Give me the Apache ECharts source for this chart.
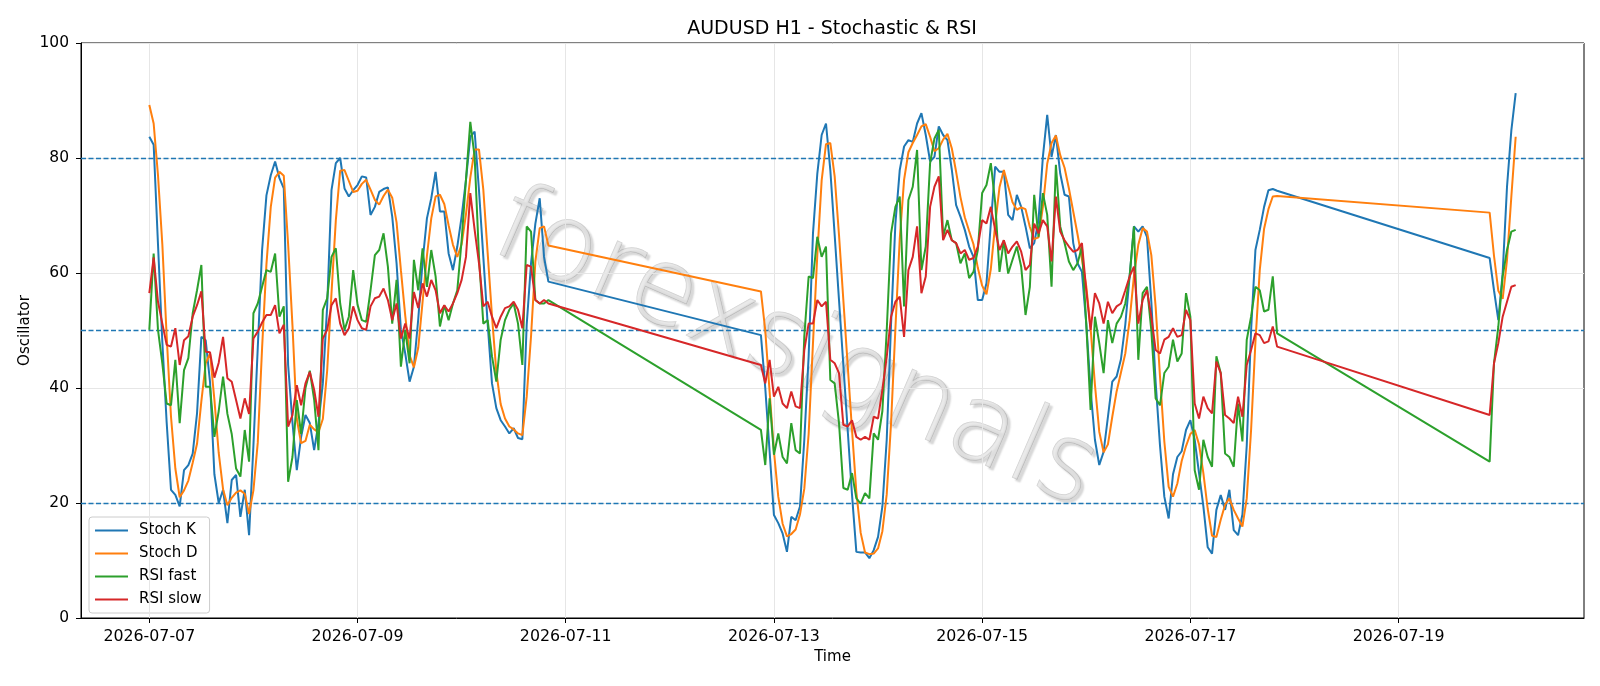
<!DOCTYPE html>
<html>
<head>
<meta charset="utf-8">
<script src="https://cdn.jsdelivr.net/npm/echarts@6/dist/echarts.min.js"></script>
<style>
  html, body { margin: 0; padding: 0; background: #fff; }
  #chart { width: 1600px; height: 686px; }
</style>
</head>
<body>
<div id="chart"></div>
<script>
// hour offsets from 2026-07-07 00:00, one point per hour inside each segment
var segments = [[0, 92], [141, 260], [309, 315]];

var tickHours = [0, 48, 96, 144, 192, 240, 288];
var tickLabels = ['2026-07-07', '2026-07-09', '2026-07-11', '2026-07-13', '2026-07-15', '2026-07-17', '2026-07-19'];
var levels = [20, 50, 80];

var stochK = [
  83.7, 82.3, 65, 48, 34, 22.3, 21.4, 19.4, 25.7, 26.6,
  28.6, 35.6, 48.9, 48.3, 41, 25, 20, 22.3, 16.5, 24,
  24.9, 17.6, 22.3, 14.4, 30, 47, 64, 73.5, 77, 79.4,
  76.5, 74.7, 44, 34, 25.7, 31.5, 35.3, 33.9, 29.2, 33.9,
  40.8, 54.2, 74.4, 79.1, 80, 74.7, 73.3, 74.4, 75.3, 76.8,
  76.6, 70.1, 71.5, 74.1, 74.6, 74.9, 69.8, 61.7, 50.1, 46,
  41.1, 43.7, 52, 62, 69.5, 73, 77.6, 70.7, 70.7, 63.4,
  60.5, 64.6, 69.8, 76.2, 83.7, 84.6, 74.4, 62.8, 51.2, 40.8,
  36.5, 34.4, 33.3, 32.1, 33, 31.3, 31.1, 51, 61.7, 68.6,
  73, 62.8, 58.5,
  49.2, 40, 29, 17.9, 16.5, 14.7, 11.5, 17.6, 17, 19.4,
  31, 45.5, 66.9, 77.3, 84, 86, 77.9, 66.6, 55.3, 44,
  32.7, 21.4, 11.5, 11.4, 11.4, 10.4, 11.8, 14.1, 19.4, 31,
  51.2, 68.6, 77.9, 82, 83.1, 82.8, 86, 87.8, 84, 79.4,
  80.2, 85.5, 84, 83.1, 78, 71.8, 69.8, 67.5, 64.6, 62.8,
  55.3, 55.3, 58.2, 68.6, 78.5, 77.6, 77.6, 70.1, 69.2, 73.6,
  71.5, 68.1, 64.3, 65.2, 69.2, 80.2, 87.5, 80.2, 84, 77.3,
  73.6, 73.3, 65.2, 61.7, 60.2, 51.2, 39.7, 31, 26.6, 28.9,
  35, 41.1, 42, 45, 51, 59.4, 68.1, 67.2, 68.1, 66.3,
  55, 41, 30, 21.1, 17.3, 25, 28, 29, 32.7, 34.4,
  31, 25.2, 19.4, 12.3, 11.2, 18.8, 21.4, 18.8, 22.3, 15.3,
  14.4, 18, 30, 50, 64, 67.5, 71.5, 74.4, 74.6, 74.3,
  62.6, 57, 51.8, 60, 75, 84.8, 91.3
];

var stochD = [
  89.2, 86, 77, 65, 49, 35, 26, 21, 22.2, 23.9,
  27, 30.3, 37.7, 44.3, 46, 38, 28.7, 22.4, 19.6, 20.9,
  21.8, 22.2, 21.6, 18.1, 22.2, 30.5, 47, 61.5, 71.5, 76.6,
  77.6, 76.9, 65, 50.9, 34.6, 30.4, 30.8, 33.6, 32.8, 32.3,
  34.6, 43, 56.5, 69.2, 77.8, 77.9, 76, 74.1, 74.3, 75.5,
  76.2, 74.5, 72.7, 71.9, 73.4, 74.5, 73.1, 68.8, 60.5, 52.6,
  45.7, 43.6, 47, 55, 63, 69.5, 73.3, 73.6, 72, 68.3,
  64.9, 62.8, 65, 70.2, 76.6, 81.5, 81.5, 74.5, 63.5, 52.5,
  42.8, 37.2, 34.7, 33.3, 32.8, 32.1, 31.8, 38.5, 49, 62,
  67.8, 68.1, 64.8,
  56.8, 50, 39.4, 29, 21.1, 16.4, 14.2, 14.6, 15.4, 18,
  22.5, 32, 47.8, 63.2, 76.1, 82.4, 82.6, 76.8, 66.6, 55.3,
  44, 32.7, 21.9, 14.8, 11.4, 11.1, 11.2, 12.1, 15.1, 21.5,
  33.9, 50.3, 65.9, 76.2, 81, 82.6, 84, 85.5, 85.9, 83.7,
  81.2, 81.7, 83.2, 84.2, 81.7, 77.6, 73.2, 69.7, 67.3, 65,
  60.9, 57.8, 56.3, 60.7, 68.4, 74.9, 77.9, 75.1, 72.3, 71,
  71.4, 71.1, 68, 65.9, 66.2, 71.5, 79, 82.6, 83.9, 80.5,
  78.3, 74.7, 70.7, 66.7, 62.4, 57.7, 50.4, 40.6, 32.4, 28.8,
  30.2, 35, 39.4, 42.7, 46, 51.8, 59.5, 64.9, 67.8, 67.2,
  63.1, 54.1, 42, 30.7, 22.8, 21.1, 23.4, 27.3, 29.9, 32,
  32.7, 30.2, 25.2, 19, 14.3, 14.1, 17.1, 19.7, 20.8, 18.8,
  17.3, 15.9, 20.8, 32.7, 48, 60.5, 67.7, 71.1, 73.3, 73.4,
  70.5, 63, 56.9, 55.5, 62.3, 73.3, 83.7
];

var rsiFast = [
  50.1, 63.4, 50.1, 44.3, 37.3, 37, 44.9, 33.9, 43.1, 45.2,
  53, 57, 61.4, 40.2, 40.2, 31.5, 36, 42, 35.5, 32,
  26, 24.6, 32.7, 27.2, 53, 54.7, 57.6, 60.5, 60.2, 63.4,
  52.4, 54.2, 23.7, 28, 37.9, 32, 40, 43, 38, 29.2,
  53.6, 55.6, 62.8, 64.3, 54.7, 50.1, 52.4, 60.5, 54.5, 51.8,
  51.5, 57, 63.1, 64, 66.9, 61.1, 51.2, 58.8, 43.7, 50.1,
  44.3, 62.3, 57, 64.3, 57.6, 64, 59.4, 50.7, 54.4, 51.8,
  54.7, 57, 65.7, 76.2, 86.3, 80.2, 62.8, 51.2, 51.8, 45.5,
  41.1, 48.4, 51.8, 53.6, 54.7, 51.2, 44, 68.1, 67.2, 55.3,
  54.7, 54.7, 55.3,
  32.7, 26.6, 38.2, 28.4, 32.1, 28, 26.9, 33.9, 29.2, 28.6,
  49, 59.4, 59.1, 66.3, 62.8, 64.6, 41.4, 40.8, 33.9, 22.6,
  22.3, 25.2, 20.8, 19.9, 21.7, 20.8, 32.1, 31, 36, 50,
  66.9, 71.5, 73.3, 54.2, 72.7, 75, 81.4, 60.5, 64.6, 79.1,
  83.4, 84.9, 66.3, 69.2, 65.7, 65.2, 61.7, 63.4, 59.1, 60.2,
  64, 73.9, 75.3, 79.1, 72.3, 60.2, 65.7, 59.9, 62.3, 64.6,
  61.1, 52.7, 57.6, 73.6, 66.3, 73.9, 70.1, 57.6, 78.8, 68.1,
  65.2, 62, 60.5, 61.7, 64.6, 51.2, 36.2, 52.4, 47.8, 42.6,
  51.8, 47.8, 51.2, 52.4, 54.7, 59.4, 68.1, 44.9, 56.5, 57.6,
  50, 38.2, 37, 42.6, 43.7, 48.4, 44.6, 46, 56.5, 52.4,
  25.7, 22.3, 31, 28, 26.3, 45.5, 42.6, 28.6, 28, 26.3,
  37.3, 30.7, 48.4, 52.4, 57.6, 57, 53.3, 53.6, 59.4, 49.5,
  27.2, 44.3, 50.7, 59.4, 64, 67.2, 67.5
];

var rsiSlow = [
  56.5, 62.7, 55, 51.2, 47.5, 47.2, 50.4, 44, 48.3, 49,
  52.4, 54.4, 56.8, 46.3, 46.2, 41.8, 44.4, 48.9, 41.7, 41.1,
  37.9, 34.7, 38.2, 35.5, 48.6, 49.8, 51.4, 52.7, 52.7, 54.4,
  49.5, 51, 33.3, 35.3, 40.5, 37, 40.8, 42.8, 39.7, 35,
  48.6, 50.1, 54.4, 55.6, 51.2, 49.2, 50.4, 54.2, 51.8, 50.4,
  50.1, 54.2, 55.6, 55.9, 57.3, 55.3, 51.8, 54.7, 48.6, 51.2,
  48.6, 56.7, 53.9, 58.2, 55.9, 58.8, 57, 53, 54.4, 53.3,
  54.7, 56.5, 58.8, 62.8, 73.9, 67.5, 61.7, 54.2, 55, 52.4,
  50.4, 52.4, 53.9, 54.2, 55, 53.6, 50.4, 61.4, 61.1, 55.3,
  54.7, 55.3, 54.7,
  44, 40.8, 44.9, 38.5, 40.2, 37.3, 36.5, 39.4, 36.8, 36.5,
  46.6, 51.2, 51.2, 55.3, 54.2, 55, 44.9, 44.3, 42.6, 33.6,
  33.3, 34.4, 31.5, 31, 31.5, 31, 35, 34.7, 39.7, 45.4,
  52.4, 55, 55.9, 48.9, 60.5, 62.8, 68.1, 56.5, 59.4, 71.5,
  75, 76.8, 65.7, 67.5, 65.7, 65.2, 63.4, 64, 62.3, 62.6,
  64.6, 69.2, 68.6, 71.5, 67.5, 64, 65.7, 63.4, 64.6, 65.5,
  63.7, 60.5, 61.4, 68.6, 66.9, 69.2, 68.1, 62, 73.3, 67.2,
  65.7, 64.6, 63.7, 64, 65.2, 57, 50.1, 56.5, 54.7, 51.2,
  55, 53, 54.2, 54.7, 57, 59.4, 61.1, 51.2, 55.3, 57,
  52.4, 46.6, 46, 48.4, 48.9, 50.4, 48.9, 49.2, 53.6, 51.8,
  37.3, 34.7, 38.5, 36.5, 35.6, 44.6, 42.6, 35.3, 34.7, 33.9,
  38.5, 35, 44, 46.6, 49.5, 49.2, 47.8, 48.1, 50.7, 47.2,
  35.3, 44.3, 47.8, 52.4, 55, 57.6, 57.9
];

var hours = [];
segments.forEach(function (s) {
  for (var h = s[0]; h <= s[1]; h++) hours.push(h);
});

function pairs(vals) {
  return hours.map(function (h, i) { return [h, vals[i]]; });
}

var chart = echarts.init(document.getElementById('chart'));
var font = 'DejaVu Sans';

function lineSeries(name, vals, color) {
  return {
    name: name,
    type: 'line',
    data: pairs(vals),
    symbol: 'none',
    showSymbol: false,
    z: 5,
    lineStyle: { color: color, width: 2 },
    itemStyle: { color: color },
    emphasis: { disabled: true }
  };
}

var option = {
  animation: false,
  backgroundColor: '#fff',
  textStyle: { fontFamily: font },
  title: {
    text: 'AUDUSD H1 - Stochastic & RSI',
    left: 827,
    textAlign: 'center',
    top: 15,
    textStyle: { fontFamily: font, fontSize: 19, fontWeight: 'normal', color: '#000' }
  },
  legend: {
    data: ['Stoch K', 'Stoch D', 'RSI fast', 'RSI slow'],
    orient: 'vertical',
    left: 89,
    top: 517,
    itemWidth: 33,
    itemHeight: 2,
    itemGap: 8,
    icon: 'rect',
    padding: [6, 8, 6, 6],
    backgroundColor: 'rgba(255,255,255,0.85)',
    borderColor: '#cccccc',
    borderWidth: 1,
    borderRadius: 3,
    textStyle: { fontFamily: font, fontSize: 15, color: '#000', padding: [0, 0, 0, 6] }
  },
  grid: {
    left: 81, right: 16, top: 43, bottom: 68,
    show: true, borderColor: '#000', borderWidth: 1, backgroundColor: 'transparent'
  },
  xAxis: {
    type: 'value',
    min: -15.75,
    max: 330.75,
    name: 'Time',
    nameLocation: 'middle',
    nameGap: 30,
    nameTextStyle: { fontFamily: font, fontSize: 15, color: '#000' },
    axisLine: { show: true, onZero: false, lineStyle: { color: '#000', width: 1 } },
    axisTick: { show: true, customValues: tickHours, length: 5, lineStyle: { color: '#000' } },
    axisLabel: {
      customValues: tickHours,
      margin: 11,
      fontFamily: font,
      fontSize: 15.8,
      color: '#000',
      formatter: function (v) {
        var i = tickHours.indexOf(v);
        return i >= 0 ? tickLabels[i] : '';
      }
    },
    splitLine: { show: false }
  },
  yAxis: {
    type: 'value',
    min: 0,
    max: 100,
    interval: 20,
    name: 'Oscillator',
    nameLocation: 'middle',
    nameGap: 48,
    nameMoveOverlap: false,
    nameRotate: 90,
    nameTextStyle: { fontFamily: font, fontSize: 15, color: '#000' },
    axisLine: { show: true, onZero: false, lineStyle: { color: '#000', width: 1 } },
    axisTick: { show: true, length: 5, lineStyle: { color: '#000' } },
    axisLabel: { margin: 12, fontFamily: font, fontSize: 15.5, color: '#000' },
    splitLine: { show: true, lineStyle: { color: '#e6e6e6', width: 1 } }
  },
  graphic: [{
    type: 'text',
    x: 795,
    y: 352,
    rotation: -0.41,
    z: 0,
    silent: true,
    style: {
      text: 'forexsignals',
      fontFamily: font,
      fontWeight: 200,
      fontSize: 108,
      fill: 'rgba(225,225,225,0.7)',
      stroke: 'rgba(150,150,150,0.45)',
      lineWidth: 1,
      textShadowColor: 'rgba(0,0,0,0.22)',
      textShadowOffsetX: 3,
      textShadowOffsetY: 3,
      textShadowBlur: 2,
      align: 'center',
      verticalAlign: 'middle'
    }
  }],
  series: [
    {
      name: 'grid',
      type: 'line',
      data: [],
      z: 1,
      silent: true,
      markLine: {
        silent: true,
        symbol: 'none',
        label: { show: false },
        lineStyle: { color: '#e6e6e6', type: 'solid', width: 1 },
        data: tickHours.map(function (h) { return { xAxis: h }; })
      }
    },
    {
      name: 'levels',
      type: 'line',
      data: [],
      z: 2,
      silent: true,
      markLine: {
        silent: true,
        symbol: 'none',
        label: { show: false },
        lineStyle: { color: '#1f77b4', type: [5, 2.5], width: 1.3 },
        data: levels.map(function (v) { return { yAxis: v }; })
      }
    },
    lineSeries('Stoch K', stochK, '#1f77b4'),
    lineSeries('Stoch D', stochD, '#ff7f0e'),
    lineSeries('RSI fast', rsiFast, '#2ca02c'),
    lineSeries('RSI slow', rsiSlow, '#d62728')
  ]
};

chart.setOption(option);
</script>
</body>
</html>
